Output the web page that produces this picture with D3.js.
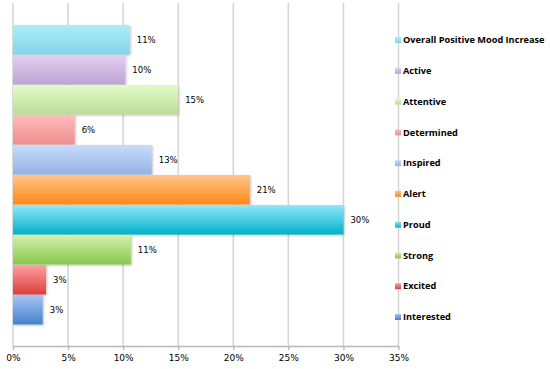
<!DOCTYPE html>
<html><head><meta charset="utf-8">
<script src="https://cdn.jsdelivr.net/npm/d3@7"></script>
<style>body{margin:0;background:#fff;}svg{display:block;}</style>
</head><body>
<svg id="c" width="550" height="369"></svg>
<script>
const categories = ["Overall Positive Mood Increase","Active","Attentive","Determined","Inspired","Alert","Proud","Strong","Excited","Interested"];
const values = [10.6, 10.2, 15.0, 5.6, 12.6, 21.5, 30.0, 10.7, 3.0, 2.7];
const valueLabels = ["11%","10%","15%","6%","13%","21%","30%","11%","3%","3%"];
const tickValues = [0,5,10,15,20,25,30,35];
const tickLabels = ["0%","5%","10%","15%","20%","25%","30%","35%"];
const topColors = ["#aaeefa","#e2cff0","#e2fcc8","#ffbcbc","#c6dcfc","#ffc48a","#92e6fa","#d2f2aa","#ffa0a0","#a6c4f2"];
const bottomColors = ["#84d4e8","#bea4d4","#bcdc98","#ee8e8e","#94b2e2","#ff8a16","#00b2ca","#88c64c","#dc3e3e","#4682cc"];

const svg = d3.select("#c");
const x = d3.scaleLinear().domain([0,35]).range([13,398.5]);
const y = d3.scaleBand().domain(categories).range([25,325]).padding(0);
const ly = d3.scalePoint().domain(categories).range([40,317]);

const defs = svg.append("defs");
categories.forEach((c,i)=>{
  const g = defs.append("linearGradient").attr("id","g"+i).attr("x1",0).attr("y1",0).attr("x2",0).attr("y2",1);
  g.append("stop").attr("offset","0%").attr("stop-color",topColors[i]);
  g.append("stop").attr("offset","100%").attr("stop-color",bottomColors[i]);
});
const f = defs.append("filter").attr("id","sh").attr("x","-5%").attr("y","-10%").attr("width","115%").attr("height","130%");
f.append("feDropShadow").attr("dx",1).attr("dy",1).attr("stdDeviation",0.8).attr("flood-color","#000").attr("flood-opacity",0.25);

// gridlines
svg.append("g").selectAll("line").data(tickValues).join("line")
  .attr("x1",d=>x(d)).attr("x2",d=>x(d)).attr("y1",3).attr("y2",346)
  .attr("stroke","#d6d6d6").attr("stroke-width",1.6);

// axis
const ax = svg.append("g").attr("transform","translate(0,346)")
  .call(d3.axisBottom(x).tickValues(tickValues).tickFormat((d,i)=>tickLabels[i]).tickSize(4).tickSizeOuter(0));
ax.select(".domain").attr("stroke","#b8b8b8").attr("stroke-width",1.4);
ax.selectAll(".tick line").attr("stroke","#b8b8b8").attr("stroke-width",1.4);
ax.selectAll(".tick text").attr("font-family","'DejaVu Sans', sans-serif").attr("font-size",9).attr("fill","#000").attr("dy","0.9em");

// bars
svg.append("g").selectAll("rect").data(categories).join("rect")
  .attr("x",x(0)).attr("y",d=>y(d)).attr("height",y.bandwidth()-0.5)
  .attr("width",(d,i)=>x(values[i])-x(0))
  .attr("fill",(d,i)=>`url(#g${i})`).attr("filter","url(#sh)");

// value labels
svg.append("g").selectAll("text").data(categories).join("text")
  .attr("x",(d,i)=>x(values[i])+7).attr("y",d=>y(d)+y.bandwidth()/2)
  .attr("dy","0.35em").attr("font-family","'DejaVu Sans', sans-serif").attr("font-size",8.5).attr("fill","#000")
  .text((d,i)=>valueLabels[i]);

// legend-like labels
const lg = svg.append("g").selectAll("g").data(categories).join("g")
  .attr("transform",d=>`translate(0,${ly(d)})`);
lg.append("rect").attr("x",395).attr("y",-3).attr("width",6).attr("height",6)
  .attr("fill",(d,i)=>`url(#g${i})`);
lg.append("text").attr("x",403).attr("dy","0.35em")
  .attr("font-family","'Open Sans', sans-serif").attr("font-weight","bold").attr("font-size",9.2).attr("fill","#000")
  .text(d=>d);
</script>
</body></html>
